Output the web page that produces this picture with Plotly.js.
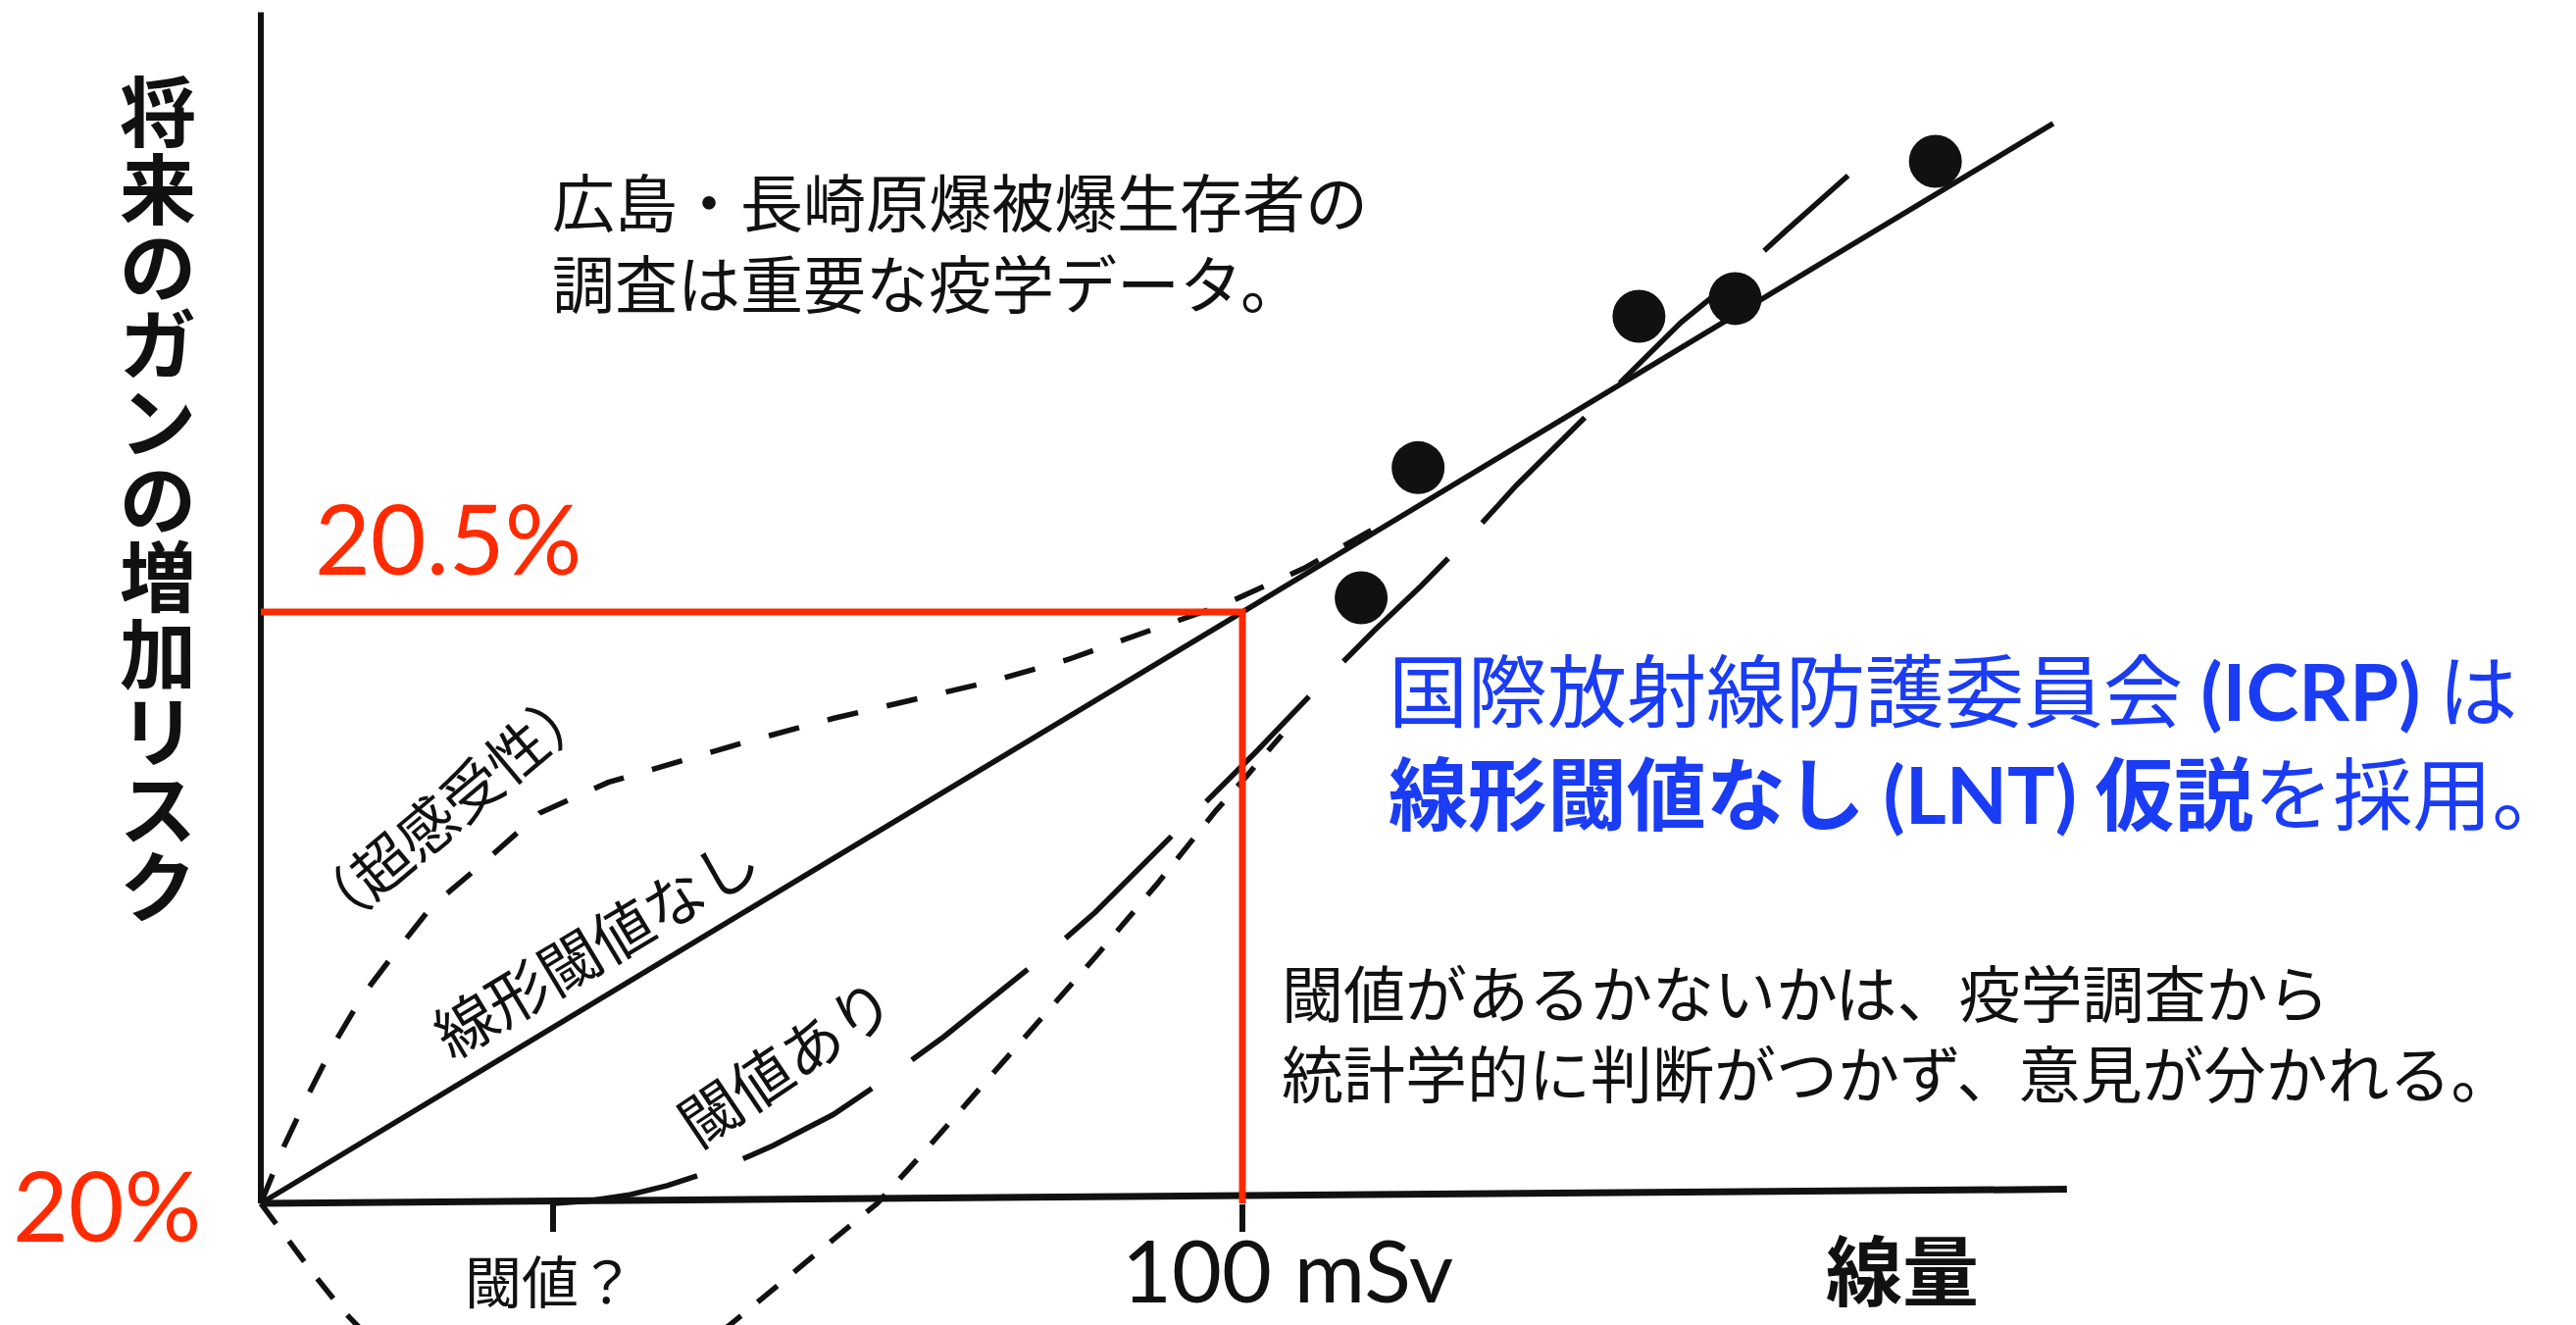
<!DOCTYPE html>
<html>
<head>
<meta charset="utf-8">
<script src="https://cdn.plot.ly/plotly-3.0.1.min.js"></script>
<style>
  html, body { margin: 0; padding: 0; background: #fff; }
  #chart { width: 2627px; height: 1351px; }
</style>
</head>
<body>
<div id="chart"></div>
<script>
// --- データ (線量 mSv / 将来のガンのリスク %) ---
const baseRisk = 20;
const refDose = 100;
const refRisk = 20.5;
const thresholdDose = 29.8;
const doseAxisEnd = 184;
const riskAxisTop = 21.007;

// 線形閾値なし (LNT)
const doseLnt = [0, 182.6];
const riskLnt = [20, 20.913];

// 超感受性
const doseSupra = [0, 2.4, 4.9, 7.4, 10.4, 13.4, 17.4, 22.4, 28.4, 35.4, 42.4, 49.4, 58.3, 66.3, 74.3, 82.3, 90.3, 98.3, 106.3, 113.3, 115.8];
const riskSupra = [20, 20.049, 20.093, 20.134, 20.176, 20.209, 20.251, 20.286, 20.330, 20.356, 20.373, 20.390, 20.410, 20.426, 20.441, 20.460, 20.483, 20.507, 20.537, 20.570, 20.579];

// 閾値あり
const doseThr = [29.8, 33.4, 37.4, 41.4, 47.6, 52.2, 58.3, 63.3, 69.6, 75.3, 81.0, 85.0, 90.8, 96.3, 101.3, 107.3, 113.4, 118.2, 123.3, 127.9, 132.5, 138.3, 144.7, 149.3, 155.2, 161.7];
const riskThr = [20, 20.002, 20.007, 20.015, 20.032, 20.049, 20.075, 20.103, 20.141, 20.179, 20.217, 20.246, 20.294, 20.340, 20.381, 20.433, 20.484, 20.522, 20.565, 20.607, 20.645, 20.693, 20.745, 20.776, 20.821, 20.869];

// 低線量でリスクが下がる曲線 (軸の下に潜る)
const doseHorm = [0, 2.4, 5.4, 8.4, 12.4, 17.4, 22.4, 26.4, 31.4, 37.4, 43.4, 47.6, 51.3, 55.3, 59.3, 62.8, 67.3, 73.3, 79.3, 85.3, 91.3, 97.3, 100.3, 104.0];
const riskHorm = [20, 19.973, 19.940, 19.909, 19.875, 19.845, 19.828, 19.823, 19.828, 19.846, 19.873, 19.896, 19.921, 19.948, 19.975, 20.000, 20.041, 20.098, 20.155, 20.211, 20.270, 20.332, 20.360, 20.396];

// 広島・長崎の観測点
const doseObs = [112.1, 117.9, 140.4, 150.2, 170.6];
const riskObs = [20.512, 20.622, 20.750, 20.765, 20.881];

const tickDoses = [thresholdDose, refDose];
const tickLabels = ['閾値？', '100 mSv'];
const yTitle = '将来のガンの増加リスク';

// --- 描画 ---
const W = 2627, H = 1351;
const JP = '"Noto Sans CJK JP", "Noto Sans", sans-serif';
const GILL = 'Lato, "Open Sans", sans-serif';
const INK = '#111';
const RED = '#ff2a00';
const BLUE = '#1a3cf4';

// 画面上のピクセル位置 → paper 座標
const at = (px, py) => ({ x: px / W, y: 1 - py / H, xref: 'paper', yref: 'paper' });

const traces = [
    { x: doseSupra, y: riskSupra, mode: 'lines', line: { color: INK, width: 5.5, dash: '32px,30px' } },
    { x: doseHorm, y: riskHorm, mode: 'lines', line: { color: INK, width: 5.5, dash: '26px,22px' } },
    { x: doseThr, y: riskThr, mode: 'lines', line: { color: INK, width: 5.5, dash: '150px,50px' } },
    { x: doseLnt, y: riskLnt, mode: 'lines', line: { color: INK, width: 5.5 } },
    // 軸線
    { x: [0, 0], y: [baseRisk, riskAxisTop], mode: 'lines', line: { color: INK, width: 6 } },
    { x: [0, doseAxisEnd], y: [baseRisk, baseRisk + 0.012], mode: 'lines', line: { color: INK, width: 7 } },
    // 100 mSv → 20.5%
    { x: [0, refDose, refDose], y: [refRisk, refRisk, baseRisk], mode: 'lines', line: { color: RED, width: 7 } },
    { x: doseObs, y: riskObs, mode: 'markers', marker: { color: INK, size: 54 } }
];

const annotations = [];
const note = (px, py, text, font, extra) => {
    annotations.push(Object.assign(at(px, py), {
        text: text, showarrow: false, font: font, xanchor: 'center', yanchor: 'middle'
    }, extra || {}));
};

// 縦書きの軸タイトル
Array.from(yTitle).forEach((ch, i) => {
    note(161, 110 + 79 * i, '<b>' + ch + '</b>', { family: JP, size: 78, color: INK });
});

note(457, 548, '20.5%', { family: GILL, size: 98, color: RED });
note(109, 1228, '20%', { family: GILL, size: 98, color: RED });

note(561, 245, '広島・長崎原爆被爆生存者の<br>調査は重要な疫学データ。',
    { family: JP, size: 64, color: INK }, { xanchor: 'left', align: 'left' });

note(1414, 752,
    '国際放射線防護委員会 <span style="font-family:Lato"><b>(ICRP)</b></span> は<br>' +
    '<b>線形閾値なし <span style="font-family:Lato">(LNT)</span> 仮説</b>を採用。',
    { family: JP, size: 81, color: BLUE }, { xanchor: 'left', align: 'left' });

note(1305, 1050, '閾値があるかないかは、疫学調査から<br>統計学的に判断がつかず、意見が分かれる。',
    { family: JP, size: 63, color: INK }, { xanchor: 'left', align: 'left' });

note(456, 822, '（超感受性）', { family: JP, size: 60, color: INK }, { textangle: -40 });
note(606, 962, '線形閾値なし', { family: JP, size: 62, color: INK }, { textangle: -31 });
note(800, 1080, '閾値あり', { family: JP, size: 62, color: INK }, { textangle: -34 });

note(561, 1304, tickLabels[0], { family: JP, size: 58, color: INK });
note(1313, 1294, tickLabels[1], { family: GILL, size: 88, color: INK });
note(1940, 1292, '<b>線量</b>', { family: JP, size: 78, color: INK });

// x: 0 mSv が 266px、100 mSv が 1267px / y: 20% が 1227px、20.5% が 624px
const pxPerDose = 10.01, pxPerRisk = 1206;
const layout = {
    width: W,
    height: H,
    margin: { l: 0, r: 0, t: 0, b: 0 },
    paper_bgcolor: '#fff',
    plot_bgcolor: '#fff',
    showlegend: false,
    xaxis: {
        domain: [0, 1],
        range: [-266 / pxPerDose, (W - 266) / pxPerDose],
        anchor: 'free',
        position: (H - 1227) / H,
        showline: false, showgrid: false, zeroline: false,
        showticklabels: false,
        tickmode: 'array', tickvals: tickDoses,
        ticks: 'outside', ticklen: 28, tickwidth: 6, tickcolor: INK
    },
    yaxis: {
        domain: [0, 1],
        range: [baseRisk - (H - 1227) / pxPerRisk, baseRisk + 1227 / pxPerRisk],
        showline: false, showgrid: false, zeroline: false,
        showticklabels: false, ticks: ''
    },
    annotations: annotations
};

Plotly.newPlot('chart', traces, layout, { displayModeBar: false, staticPlot: true });
</script>
</body>
</html>
